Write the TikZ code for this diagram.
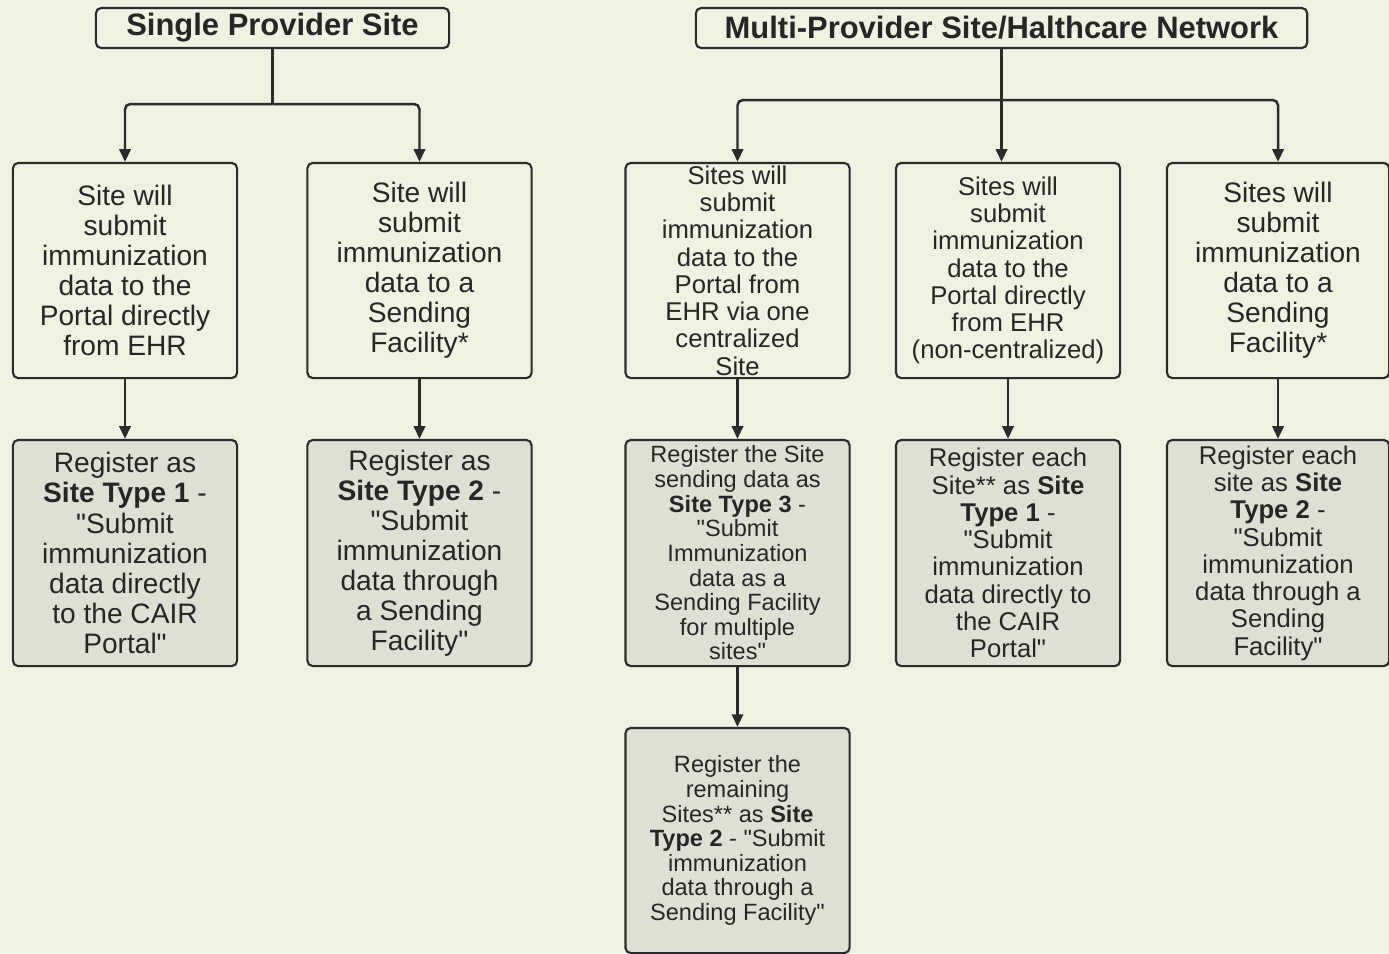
\documentclass[tikz,border=0pt]{standalone}
\usepackage{fontspec}
\setmainfont{Liberation Sans}[Ligatures=TeXOff]
\usetikzlibrary{arrows.meta}
\definecolor{bgcol}{HTML}{EFF2E1}
\definecolor{regcol}{HTML}{DFE0D4}
\definecolor{linecol}{HTML}{2B2B2B}

\begin{document}
\begin{tikzpicture}[x=0.01cm, y=-0.01cm,
  box/.style={draw=linecol, line width=0.6pt, rounded corners=1.5pt, fill=bgcol, minimum width=2.24cm, minimum height=2.15cm, inner sep=0pt, align=center, text=black!85},
  reg/.style={box, fill=regcol, minimum height=2.26cm},
  head/.style={draw=linecol, line width=0.6pt, rounded corners=1.5pt, minimum height=0.4cm, inner sep=0pt, font=\fontsize{8.8}{10}\selectfont\bfseries, text=black!85},
  big/.style={font=\fontsize{8}{8.55}\selectfont},
  mid/.style={font=\fontsize{7.3}{7.75}\selectfont},
  small/.style={font=\fontsize{6.7}{7}\selectfont},
  link/.style={draw=linecol, line width=0.7pt, rounded corners=1.5pt, -{Triangle[width=3.2pt,length=3.6pt]}}]
\fill[bgcol] (0,0) rectangle (1389,953);
\useasboundingbox (0,0) rectangle (1389,953);

% headers
\node[head, minimum width=3.53cm] (t1) at (272.5,28) {Single Provider Site};
\node[head, minimum width=6.11cm] (t2) at (1001.5,28) {Multi-Provider Site/Halthcare Network};

% first row
\node[box, big] (a1) at (125,270.5) {Site will\\submit\\immunization\\data to the\\Portal directly\\from EHR};
\node[box, big] (a2) at (419.5,270.5) {Site will\\submit\\immunization\\data to a\\Sending\\Facility*};
\node[box, mid] (a3) at (737.5,270.5) {Sites will\\submit\\immunization\\data to the\\Portal from\\EHR via one\\centralized\\Site};
\node[box, mid] (a4) at (1008,270.5) {Sites will\\submit\\immunization\\data to the\\Portal directly\\from EHR\\(non-centralized)};
\node[box, big, minimum width=2.22cm] (a5) at (1278,270.5) {Sites will\\submit\\immunization\\data to a\\Sending\\Facility*};

% second row
\node[reg, big] (r1) at (125,553) {Register as\\\textbf{Site Type 1} -\\"Submit\\immunization\\data directly\\to the CAIR\\Portal"};
\node[reg, big] (r2) at (419.5,553) {Register as\\\textbf{Site Type 2} -\\"Submit\\immunization\\data through\\a Sending\\Facility"};
\node[reg, small] (r3) at (737.5,553) {Register the Site\\sending data as\\\textbf{Site Type 3} -\\"Submit\\Immunization\\data as a\\Sending Facility\\for multiple\\sites"};
\node[reg, mid] (r4) at (1008,553) {Register each\\Site** as \textbf{Site}\\\textbf{Type 1} -\\"Submit\\immunization\\data directly to\\the CAIR\\Portal"};
\node[reg, mid, minimum width=2.22cm] (r5) at (1278,553) {Register each\\site as \textbf{Site}\\\textbf{Type 2} -\\"Submit\\immunization\\data through a\\Sending\\Facility"};

% third row
\node[reg, small, minimum height=2.25cm] (r6) at (737.5,840.5) {Register the\\remaining\\Sites** as \textbf{Site}\\\textbf{Type 2} - "Submit\\immunization\\data through a\\Sending Facility"};

% connectors
\coordinate (j1) at (272.5,104);
\coordinate (j2) at (1001.5,100);
\draw[link, -] (t1) -- (j1);
\draw[link] (j1) -| (a1);
\draw[link] (j1) -| (a2);
\draw[link, -] (t2) -- (j2);
\draw[link] (j2) -| (a3);
\draw[link] (j2) -| (a5);
\draw[link] (t2) -- (t2 |- a4.north);
\draw[link] (a1) -- (r1);
\draw[link] (a2) -- (r2);
\draw[link] (a3) -- (r3);
\draw[link] (a4) -- (r4);
\draw[link] (a5) -- (r5);
\draw[link] (r3) -- (r6);
\end{tikzpicture}
\end{document}
